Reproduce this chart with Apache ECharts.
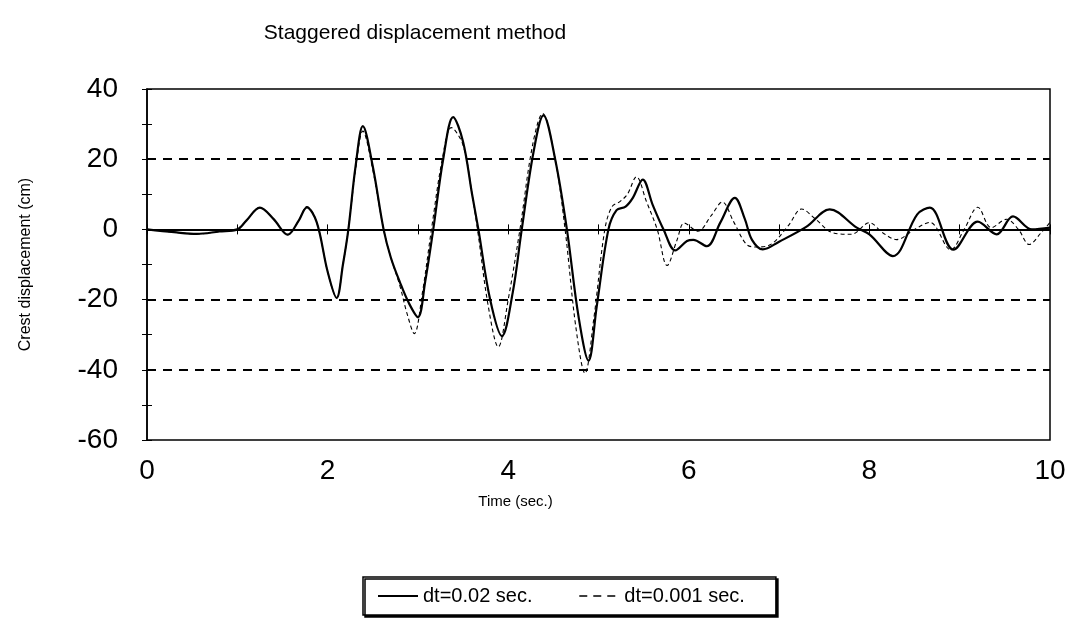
<!DOCTYPE html>
<html><head><meta charset="utf-8">
<script src="https://cdn.jsdelivr.net/npm/echarts@6/dist/echarts.min.js"></script>
<style>html,body{margin:0;padding:0;background:#fff}#c{width:1073px;height:627px}</style>
</head><body><div id="c"></div>
<script>
var title = 'Staggered displacement method';
var xName = 'Time (sec.)';
var yName = 'Crest displacement (cm)';
var seriesNames = ['dt=0.02 sec.', 'dt=0.001 sec.'];
var refLevels = [20, -20, -40];

var tSolid = [0,0.3,0.55,0.8,1.0,1.1,1.25,1.4,1.56,1.68,1.77,1.88,2.0,2.1,2.17,2.23,2.31,2.39,2.5,2.62,2.7,2.8,2.9,3.0,3.08,3.17,3.28,3.39,3.5,3.6,3.67,3.8,3.93,4.05,4.15,4.28,4.39,4.52,4.65,4.78,4.89,4.98,5.11,5.2,5.3,5.38,5.49,5.6,5.72,5.85,5.98,6.05,6.2,6.35,6.51,6.62,6.7,6.82,7.0,7.3,7.56,7.86,8.0,8.26,8.53,8.67,8.93,9.2,9.41,9.59,9.8,10.0];
var vSolid = [0,-0.8,-1.3,-0.6,0,2.5,6.2,3,-1.5,2.5,6.3,2,-12,-19.5,-10,0,18,29.4,18,0,-8,-15,-21,-25,-15,0,20,32,25,10,0,-20,-30.4,-18,0,22,32.5,20,0,-25,-37.4,-22,0,5.5,6.5,9,14.2,7,0,-6,-3.3,-3,-4.8,2,9,3,-3,-5.7,-3.5,0.7,5.7,0.5,-1.4,-7.6,4.3,6.2,-5.8,2.2,-1.4,3.7,0,0.5];

var tDash = [0,0.3,0.55,0.8,1.0,1.1,1.25,1.4,1.56,1.68,1.77,1.88,2.0,2.1,2.17,2.23,2.31,2.39,2.5,2.62,2.7,2.8,2.88,2.96,3.05,3.15,3.27,3.37,3.5,3.6,3.66,3.78,3.89,4.0,4.13,4.27,4.38,4.52,4.63,4.75,4.85,4.95,5.07,5.15,5.24,5.32,5.42,5.53,5.65,5.76,5.87,5.95,6.1,6.25,6.37,6.5,6.64,6.75,6.9,7.1,7.25,7.4,7.6,7.8,8.0,8.15,8.3,8.5,8.67,8.9,9.05,9.2,9.35,9.52,9.65,9.77,9.9,10.0];
var vDash = [0,-0.8,-1.3,-0.6,0,2.5,6.2,3,-1.5,2.5,6.5,2,-12,-19.5,-10,0,17,28,17,0,-8,-16,-24,-29.7,-18,0,20,29,24,10,0,-22,-33.5,-20,0,24,33,20,0,-28,-41,-25,0,6.5,8,10,15,8,0,-10.3,-3,1.8,-0.5,4,7.8,2,-4.3,-5,-4.4,1,5.8,3,-1,-1.4,1.9,-1,-2.9,0,2,-5.8,0,6.3,0.5,2.9,0,-4.3,-1,2];

function pairs(t, v) { return t.map(function (x, i) { return [x, v[i]]; }); }

var font = 'Liberation Sans, Arial, sans-serif';
var chart = echarts.init(document.getElementById('c'), null, {renderer: 'canvas'});
var xBase = {type: 'value', min: 0, max: 10, interval: 2, splitLine: {show: false}};
var yBase = {type: 'value', min: -60, max: 40, interval: 10, splitLine: {show: false}};
chart.setOption({
  animation: false,
  backgroundColor: '#fff',
  title: {text: title, left: 410, top: 18, textAlign: 'center',
    textStyle: {fontFamily: font, fontSize: 21, fontWeight: 'normal', color: '#000'}},
  legend: {
    left: 363, top: 577,
    itemWidth: 40, itemHeight: 14, itemGap: 46,
    padding: [9, 31, 9, 14],
    borderColor: '#000', borderWidth: 1.5,
    shadowColor: '#000', shadowOffsetX: 2, shadowOffsetY: 2, shadowBlur: 0,
    backgroundColor: '#fff',
    itemStyle: {opacity: 0},
    textStyle: {fontFamily: font, fontSize: 20, color: '#000'},
    data: [
      {name: seriesNames[0], lineStyle: {width: 2, type: 'solid'}},
      {name: seriesNames[1], lineStyle: {width: 1.5, type: [8, 6]}}
    ]
  },
  grid: {left: 147, right: 23, top: 89, bottom: 187, show: true, borderColor: '#000', borderWidth: 1.5, backgroundColor: 'transparent'},
  xAxis: [
    Object.assign({}, xBase, {
      name: xName, nameLocation: 'middle', nameGap: 54,
      nameTextStyle: {fontFamily: font, fontSize: 15, color: '#000', padding: [0, 166, 0, 0]},
      axisLine: {lineStyle: {color: '#000', width: 1.5}},
      axisTick: {show: true, length: 5, lineStyle: {color: '#000'}},
      minorTick: {show: true, splitNumber: 2, length: 5, lineStyle: {color: '#000'}},
      axisLabel: {fontFamily: font, fontSize: 28, color: '#000', margin: 17}
    }),
    Object.assign({}, xBase, {
      position: 'bottom',
      axisLine: {show: false},
      axisTick: {show: true, inside: true, length: 5, lineStyle: {color: '#000'}},
      minorTick: {show: true, splitNumber: 2, length: 5, lineStyle: {color: '#000'}},
      axisLabel: {show: false}
    })
  ],
  yAxis: [
    Object.assign({}, yBase, {
      name: yName, nameLocation: 'middle', nameGap: 113,
      nameTextStyle: {fontFamily: font, fontSize: 16, color: '#000'},
      axisLine: {lineStyle: {color: '#000', width: 1.5}},
      axisTick: {show: true, length: 5, lineStyle: {color: '#000'}},
      axisLabel: {fontFamily: font, fontSize: 28, color: '#000', margin: 29,
        formatter: function (v) { return v % 20 === 0 ? String(v) : ''; }}
    }),
    Object.assign({}, yBase, {
      position: 'left',
      axisLine: {show: false},
      axisTick: {show: true, inside: true, length: 5, lineStyle: {color: '#000'}},
      axisLabel: {show: false}
    })
  ],
  series: [
    {
      name: seriesNames[0], type: 'line', data: pairs(tSolid, vSolid),
      smooth: 0.35, showSymbol: false, symbol: 'none',
      lineStyle: {color: '#000', width: 2.2},
      itemStyle: {color: '#000'},
      markLine: {
        silent: true, symbol: 'none', label: {show: false},
        data: [{yAxis: 0, lineStyle: {type: 'solid', width: 2.2, color: '#000'}}].concat(
          refLevels.map(function (l) { return {yAxis: l, lineStyle: {type: [9, 7], width: 2.2, color: '#000'}}; }))
      },
      z: 3
    },
    {
      name: seriesNames[1], type: 'line', data: pairs(tDash, vDash),
      smooth: 0.35, showSymbol: false, symbol: 'none',
      lineStyle: {color: '#000', width: 1.1, type: [4, 3]},
      itemStyle: {color: '#000'},
      z: 4
    }
  ]
});
</script></body></html>
